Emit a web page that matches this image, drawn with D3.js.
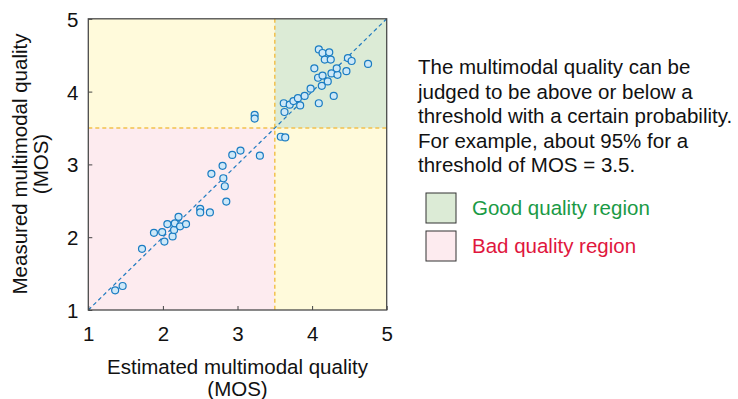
<!DOCTYPE html>
<html>
<head>
<meta charset="utf-8">
<script src="https://cdn.jsdelivr.net/npm/d3@7"></script>
<style>
  body { margin: 0; background: #fff; }
  svg { font-family: "Liberation Sans", Arial, sans-serif; }
</style>
</head>
<body>
<div id="chart"></div>
<script>
// estimated (x) vs measured (y) MOS
let estimated = [1.36, 1.46, 1.72, 1.88, 1.99, 2.02, 2.06, 2.13, 2.15, 2.16, 2.21, 2.23, 2.31,
  2.50, 2.50, 2.63, 2.65, 2.80, 2.81, 2.83, 2.85, 2.93, 3.04, 3.30, 3.23, 3.23,
  3.58, 3.64, 3.62, 3.63, 3.70, 3.75, 3.81, 3.84, 3.90, 3.98, 4.09, 4.08, 4.13, 4.14,
  4.21, 4.29, 4.26, 4.34, 4.33, 4.46, 4.03, 4.09, 4.14, 4.23, 4.17, 4.25, 4.48, 4.53, 4.75];
let measured = [1.27, 1.33, 1.84, 2.06, 2.07, 1.94, 2.18, 2.01, 2.10, 2.19, 2.28, 2.15, 2.18,
  2.39, 2.34, 2.34, 2.87, 2.98, 2.81, 2.70, 2.49, 3.13, 3.19, 3.12, 3.68, 3.63,
  3.38, 3.37, 3.84, 3.72, 3.82, 3.87, 3.91, 3.81, 3.94, 4.04, 3.84, 4.19, 4.08, 4.22,
  4.14, 3.94, 4.25, 4.23, 4.32, 4.28, 4.32, 4.58, 4.53, 4.54, 4.44, 4.44, 4.46, 4.42, 4.38];
let ticks = [1, 2, 3, 4, 5];
let threshold = 3.5;
let noteLines = ['The multimodal quality can be', 'judged to be above or below a',
  'threshold with a certain probability.', 'For example, about 95% for a', 'threshold of MOS = 3.5.'];
let legendItems = ['Good quality region', 'Bad quality region'];

let width = 738, height = 399,
    margin = { top: 18.8, left: 88.3, right: 351.3, bottom: 89 };
let w = width - margin.left - margin.right,
    h = height - margin.top - margin.bottom;
let fs = '20.5px';

let svg = d3.select('#chart').append('svg')
  .attr('width', width).attr('height', height);

let x = d3.scaleLinear().domain([1, 5]).range([0, w]);
let y = d3.scaleLinear().domain([1, 5]).range([h, 0]);

let g = svg.append('g').attr('transform', `translate(${margin.left},${margin.top})`);

// regions
let regions = [
  { x0: 1, x1: threshold, y0: threshold, y1: 5, fill: '#fffadb' },
  { x0: threshold, x1: 5, y0: 1, y1: threshold, fill: '#fffadb' },
  { x0: threshold, x1: 5, y0: threshold, y1: 5, fill: '#dcebd6' },
  { x0: 1, x1: threshold, y0: 1, y1: threshold, fill: '#fdebef' }
];
g.selectAll('rect.region').data(regions).enter().append('rect')
  .attr('x', d => x(d.x0)).attr('y', d => y(d.y1))
  .attr('width', d => x(d.x1) - x(d.x0)).attr('height', d => y(d.y0) - y(d.y1))
  .attr('fill', d => d.fill);

// threshold lines
g.append('line').attr('x1', x(threshold)).attr('x2', x(threshold)).attr('y1', 0).attr('y2', h)
  .attr('stroke', '#f2c14e').attr('stroke-width', 1.5).attr('stroke-dasharray', '4,3');
g.append('line').attr('x1', 0).attr('x2', w).attr('y1', y(threshold)).attr('y2', y(threshold))
  .attr('stroke', '#f2c14e').attr('stroke-width', 1.5).attr('stroke-dasharray', '4,3');

// diagonal
g.append('line').attr('x1', x(1)).attr('y1', y(1)).attr('x2', x(5)).attr('y2', y(5))
  .attr('stroke', '#1f7ac0').attr('stroke-width', 1.2).attr('stroke-dasharray', '4,3');

// points
g.selectAll('circle').data(estimated).enter().append('circle')
  .attr('cx', (d, i) => x(d)).attr('cy', (d, i) => y(measured[i]))
  .attr('r', 3.5)
  .attr('fill', '#cde8f8').attr('stroke', '#1a7cc2').attr('stroke-width', 1.2);

// axes
let xAxis = d3.axisBottom(x).tickValues(ticks).tickFormat(d3.format('d'))
  .tickSizeInner(-4).tickSizeOuter(0).tickPadding(16);
let yAxis = d3.axisLeft(y).tickValues(ticks).tickFormat(d3.format('d'))
  .tickSizeInner(-4).tickSizeOuter(0).tickPadding(10);
let gx = g.append('g').attr('transform', `translate(0,${h})`).call(xAxis);
let gy = g.append('g').call(yAxis);
[gx, gy].forEach(a => {
  a.attr('font-size', null).attr('font-family', null);
  a.select('.domain').remove();
  a.selectAll('line').attr('stroke', '#444');
  a.selectAll('text').attr('fill', '#111').style('font-size', fs);
});
gy.selectAll('text').attr('dy', '0.37em');

// frame
g.append('rect').attr('width', w).attr('height', h)
  .attr('fill', 'none').attr('stroke', '#4a4a4a').attr('stroke-width', 1.3);

// axis titles
svg.append('text').attr('x', margin.left + w / 2).attr('y', 374)
  .attr('text-anchor', 'middle').style('font-size', fs).attr('fill', '#111')
  .text('Estimated multimodal quality');
svg.append('text').attr('x', margin.left + w / 2).attr('y', 396)
  .attr('text-anchor', 'middle').style('font-size', fs).attr('fill', '#111')
  .text('(MOS)');
svg.append('text').attr('transform', `translate(27,164) rotate(-90)`)
  .attr('text-anchor', 'middle').style('font-size', fs).attr('fill', '#111')
  .text('Measured multimodal quality');
svg.append('text').attr('transform', `translate(48,164) rotate(-90)`)
  .attr('text-anchor', 'middle').style('font-size', fs).attr('fill', '#111')
  .text('(MOS)');

// note
svg.append('g').selectAll('text').data(noteLines).enter().append('text')
  .attr('x', 418).attr('y', (d, i) => 74 + i * 24.5)
  .style('font-size', fs).attr('fill', '#111')
  .text(d => d);

// legend
let legend = svg.append('g').attr('transform', 'translate(426,193)');
let legendFill = ['#dcebd6', '#fdebef'];
let legendColor = ['#1a9a45', '#e0163d'];
legend.selectAll('rect').data(legendItems).enter().append('rect')
  .attr('x', 0).attr('y', (d, i) => i * 38)
  .attr('width', 30).attr('height', 30)
  .attr('fill', (d, i) => legendFill[i]).attr('stroke', '#333').attr('stroke-width', 1);
legend.selectAll('text').data(legendItems).enter().append('text')
  .attr('x', 46).attr('y', (d, i) => i * 38 + 22)
  .style('font-size', fs).attr('fill', (d, i) => legendColor[i])
  .text(d => d);
</script>
</body>
</html>
